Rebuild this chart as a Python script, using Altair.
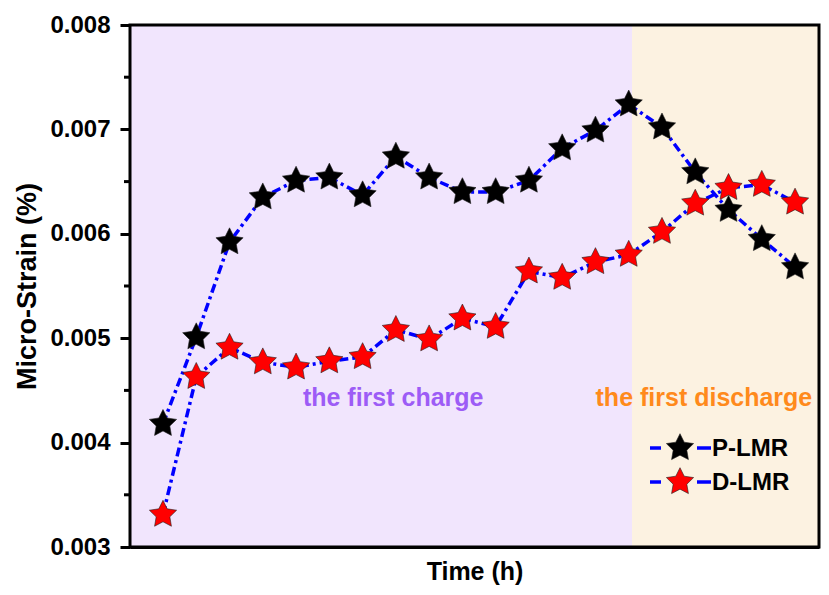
import altair as alt
import pandas as pd

# ---- data ----
time_idx = list(range(1, 21))
p_lmr = [0.00418, 0.00501, 0.00592, 0.00635, 0.00651, 0.00654, 0.00637, 0.00674, 0.00654, 0.00640,
         0.00640, 0.00651, 0.00682, 0.00699, 0.00724, 0.00702, 0.00659, 0.00623, 0.00595, 0.00568]
d_lmr = [0.00331, 0.00463, 0.00491, 0.00477, 0.00472, 0.00478, 0.00482, 0.00508, 0.00499, 0.00519,
         0.00511, 0.00564, 0.00558, 0.00573, 0.00580, 0.00602, 0.00629, 0.00644, 0.00647, 0.00630]
series_names = ["P-LMR", "D-LMR"]
series_colors = ["#000000", "#ff0000"]
y_major = [0.003, 0.004, 0.005, 0.006, 0.007, 0.008]
y_minor = [0.0035, 0.0045, 0.0055, 0.0065, 0.0075]
x_domain = [0.008, 20.72]
y_domain = [0.003, 0.008]
phase_names = ["the first charge", "the first discharge"]
phase_start = [0.008, 15.1]
phase_end = [15.1, 20.72]
phase_fill = ["#f1e5fd", "#fcf2e1"]
phase_text_color = ["#9d5cf6", "#ff8a1c"]
phase_label_x = [7.92, 17.26]
phase_label_y = [0.00443, 0.00443]

W, H = 689, 522
STAR = ("M0,-1L0.294,-0.405L0.951,-0.309L0.476,0.155L0.588,0.809L0,0.5"
        "L-0.588,0.809L-0.476,0.155L-0.951,-0.309L-0.294,-0.405Z")
FONT = "Arial, Liberation Sans, sans-serif"

df = pd.DataFrame({
    "t": time_idx * 2,
    "v": p_lmr + d_lmr,
    "s": [series_names[0]] * 20 + [series_names[1]] * 20,
})
bg = pd.DataFrame({"x": phase_start, "x2": phase_end, "y": [y_domain[0]] * 2,
                   "y2": [y_domain[1]] * 2, "phase": phase_names, "fill": phase_fill})
lab = pd.DataFrame({"x": phase_label_x, "y": phase_label_y, "text": phase_names,
                    "c": phase_text_color})
minor = pd.DataFrame({"y": y_minor})
leg = pd.DataFrame({"s": series_names, "c": series_colors, "row": [0, 1]})
frame = pd.DataFrame({"x0": [x_domain[0]], "x1": [x_domain[1]],
                      "y0": [y_domain[0]], "y1": [y_domain[1]]})

xs = alt.Scale(domain=x_domain, nice=False, zero=False)
ys = alt.Scale(domain=y_domain, nice=False, zero=False)
row_scale = alt.Scale(domain=[0, 1], range=[423, 457])

x_axis = alt.Axis(title="Time (h)", labels=False, ticks=False, domain=True, domainWidth=3,
                  domainColor="black", grid=False, titleFont=FONT, titleFontSize=25,
                  titleFontWeight="bold", titleColor="black", titlePadding=12)
y_axis = alt.Axis(title="Micro-Strain (%)", values=y_major, format=".3f", tickSize=10,
                  tickWidth=3, tickColor="black", domainWidth=3, domainColor="black",
                  grid=False, labelFont=FONT, labelFontSize=24, labelFontWeight="bold",
                  labelColor="black", labelPadding=10, titleFont=FONT, titleFontSize=27,
                  titleFontWeight="bold", titleColor="black", titlePadding=8)

background = alt.Chart(bg).mark_rect().encode(
    x=alt.X("x:Q", scale=xs, axis=x_axis),
    x2="x2:Q",
    y=alt.Y("y:Q", scale=ys, axis=y_axis),
    y2="y2:Q",
    color=alt.Color("fill:N", scale=None, legend=None),
)

# frame around the plot area
frame_box = alt.Chart(frame).mark_rect(fillOpacity=0, stroke="black", strokeWidth=3).encode(
    x=alt.X("x0:Q", scale=xs), x2="x1:Q",
    y=alt.Y("y0:Q", scale=ys, axis=None), y2="y1:Q")

minor_ticks = alt.Chart(minor).mark_rule(color="black", strokeWidth=3).encode(
    y=alt.Y("y:Q", scale=ys, axis=None), x=alt.value(-6), x2=alt.value(0))

lines = alt.Chart(df).mark_line(color="#0000ff", strokeWidth=3.5,
                                strokeDash=[9, 4, 3, 4]).encode(
    x=alt.X("t:Q", scale=xs), y=alt.Y("v:Q", scale=ys, axis=None), detail="s:N")

stars = alt.Chart(df).mark_point(shape=STAR, size=820, filled=True, opacity=1,
                                 strokeWidth=0.6).encode(
    x=alt.X("t:Q", scale=xs), y=alt.Y("v:Q", scale=ys, axis=None),
    color=alt.Color("s:N", scale=alt.Scale(domain=series_names, range=series_colors),
                    legend=None),
    stroke=alt.value("#202020"),
)

labels = alt.Chart(lab).mark_text(font=FONT, fontSize=25, fontWeight="bold").encode(
    x=alt.X("x:Q", scale=xs), y=alt.Y("y:Q", scale=ys, axis=None), text="text:N",
    color=alt.Color("c:N", scale=None, legend=None))

# manual legend (line - star - line + label)
leg_dash_l = alt.Chart(leg).mark_rule(color="#0000ff", strokeWidth=3.5).encode(
    x=alt.value(520), x2=alt.value(531),
    y=alt.Y("row:Q", scale=row_scale, axis=None))
leg_dash_r = alt.Chart(leg).mark_rule(color="#0000ff", strokeWidth=3.5).encode(
    x=alt.value(567), x2=alt.value(581),
    y=alt.Y("row:Q", scale=row_scale, axis=None))
leg_star = alt.Chart(leg).mark_point(shape=STAR, size=820, filled=True, opacity=1,
                                     strokeWidth=0.6).encode(
    x=alt.value(550),
    y=alt.Y("row:Q", scale=row_scale, axis=None),
    color=alt.Color("c:N", scale=None, legend=None),
    stroke=alt.value("#202020"))
leg_text = alt.Chart(leg).mark_text(font=FONT, fontSize=24, fontWeight="bold", align="left",
                                    baseline="middle", color="black", dx=1, dy=1).encode(
    x=alt.value(581),
    y=alt.Y("row:Q", scale=row_scale, axis=None),
    text="s:N")

chart = alt.layer(background, frame_box, minor_ticks, lines, stars, labels,
                  leg_dash_l, leg_dash_r, leg_star, leg_text).resolve_scale(
    y="independent").properties(
    width=W, height=H,
    autosize=alt.AutoSizeParams(type="none"),
    padding={"left": 122, "top": 17, "right": 2, "bottom": 40},
    background="white",
).configure_view(strokeWidth=0)

chart.save("out.html", embed_options={"renderer": "svg", "actions": False})
